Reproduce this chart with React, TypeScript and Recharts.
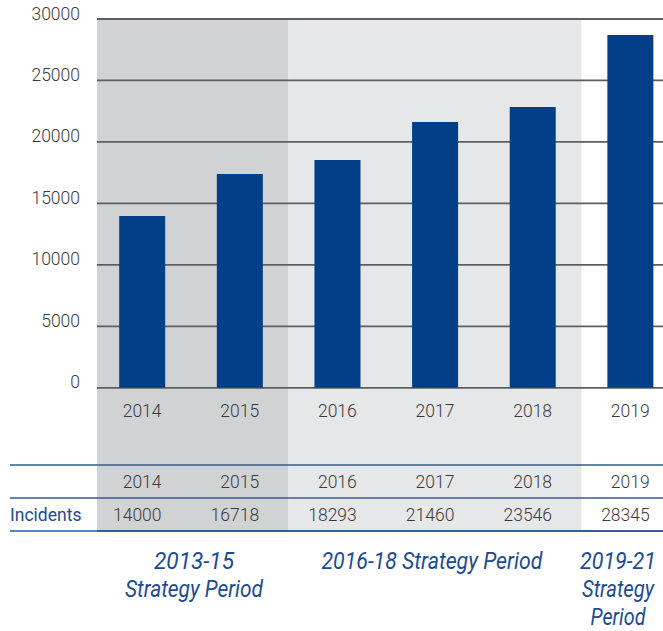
import React from 'react';
import { BarChart, Bar, XAxis, YAxis, CartesianGrid, ReferenceArea } from 'recharts';

const years = ['2014', '2015', '2016', '2017', '2018', '2019'];
// bar heights as drawn in the picture
const barValues = [13970, 17390, 18530, 21620, 22840, 28700];
// values printed in the table
const incidents = [14000, 16718, 18293, 21460, 23546, 28345];
const yTicks = [0, 5000, 10000, 15000, 20000, 25000, 30000];
const periodShades = [
  { from: '2014', to: '2015', color: '#d1d2d4' },
  { from: '2016', to: '2018', color: '#e6e7e8' },
];
const periodLabels = [
  { x: 194, lines: ['2013-15', 'Strategy Period'], widths: [80, 138] },
  { x: 432, lines: ['2016-18 Strategy Period'], widths: [221] },
  { x: 618, lines: ['2019-21', 'Strategy', 'Period'], widths: [76, 72, 55] },
];
const rowLabel = 'Incidents';

const data = years.map((y, i) => ({ year: y, value: barValues[i], incidents: incidents[i] }));

const FONT = 'Roboto, "Liberation Sans", Arial, sans-serif';
const TEXT = '#3a3a3a';
const BLUE_TEXT = '#1d4b8f';

const YTick = (props: any) => {
  const { y, payload } = props;
  return (
    <text x={80} y={y + 0.5} textAnchor="end" fontFamily={FONT} fontWeight={300} fontSize={17.5} fill={TEXT}>
      {payload.value}
    </text>
  );
};

const TableTick = (props: any) => {
  const { x, y, payload } = props;
  const i = years.indexOf(payload.value);
  const common = { textAnchor: 'end' as const, fontFamily: FONT, fontWeight: 300, fontSize: 17.5, fill: TEXT };
  return (
    <g>
      <text x={x + 19.5} y={y - 114.5} {...common}>{payload.value}</text>
      <text x={x + 19.5} y={y - 43} {...common}>{payload.value}</text>
      <text x={x + 19.5} y={y - 10.5} {...common}>{incidents[i]}</text>
    </g>
  );
};

export default function App() {
  return (
    <div style={{ position: 'absolute', left: 0, top: 0, width: 663, height: 631, overflow: 'hidden', background: '#fff' }}>
      <BarChart width={679} height={631} data={data} margin={{ top: 19, right: 0, bottom: 70, left: 0 }}>
        {periodShades.map((p) => (
          <ReferenceArea
            key={p.from}
            x1={p.from}
            x2={p.to}
            fill={p.color}
            fillOpacity={1}
            stroke="none"
            ifOverflow="hidden"
            zIndex={-200}
          />
        ))}
        <CartesianGrid vertical={false} stroke="#5e5f61" strokeWidth={1.8} />
        <XAxis
          dataKey="year"
          height={30}
          padding={{ left: -3.8, right: 0 }}
          axisLine={false}
          tickLine={false}
          tickSize={0}
          tickMargin={0}
          interval={0}
          tick={<TableTick />}
        />
        <YAxis
          type="number"
          width={97}
          domain={[-11650, 30000]}
          ticks={yTicks}
          allowDataOverflow
          axisLine={false}
          tickLine={false}
          tick={<YTick />}
        />
        <Bar dataKey="value" fill="#023f88" barSize={46} isAnimationActive={false} />
      </BarChart>
      <svg style={{ position: 'absolute', left: 0, top: 0, pointerEvents: 'none' }} width={663} height={631}>
        {[465, 498, 531].map((ly) => (
          <line key={ly} x1={10} x2={663} y1={ly} y2={ly} stroke="#2f5d9e" strokeWidth={1.5} />
        ))}
        <text x={10} y={520.5} fontFamily={FONT} fontSize={17.5} fill={BLUE_TEXT}>{rowLabel}</text>
        {periodLabels.map((p) =>
          p.lines.map((t, j) => (
            <text
              key={p.x + '-' + j}
              x={p.x}
              y={569 + j * 28}
              textAnchor="middle"
              fontFamily={FONT}
              fontStyle="italic"
              fontSize={23}
              fill={BLUE_TEXT}
              textLength={p.widths[j]}
              lengthAdjust="spacingAndGlyphs"
            >
              {t}
            </text>
          ))
        )}
      </svg>
    </div>
  );
}
